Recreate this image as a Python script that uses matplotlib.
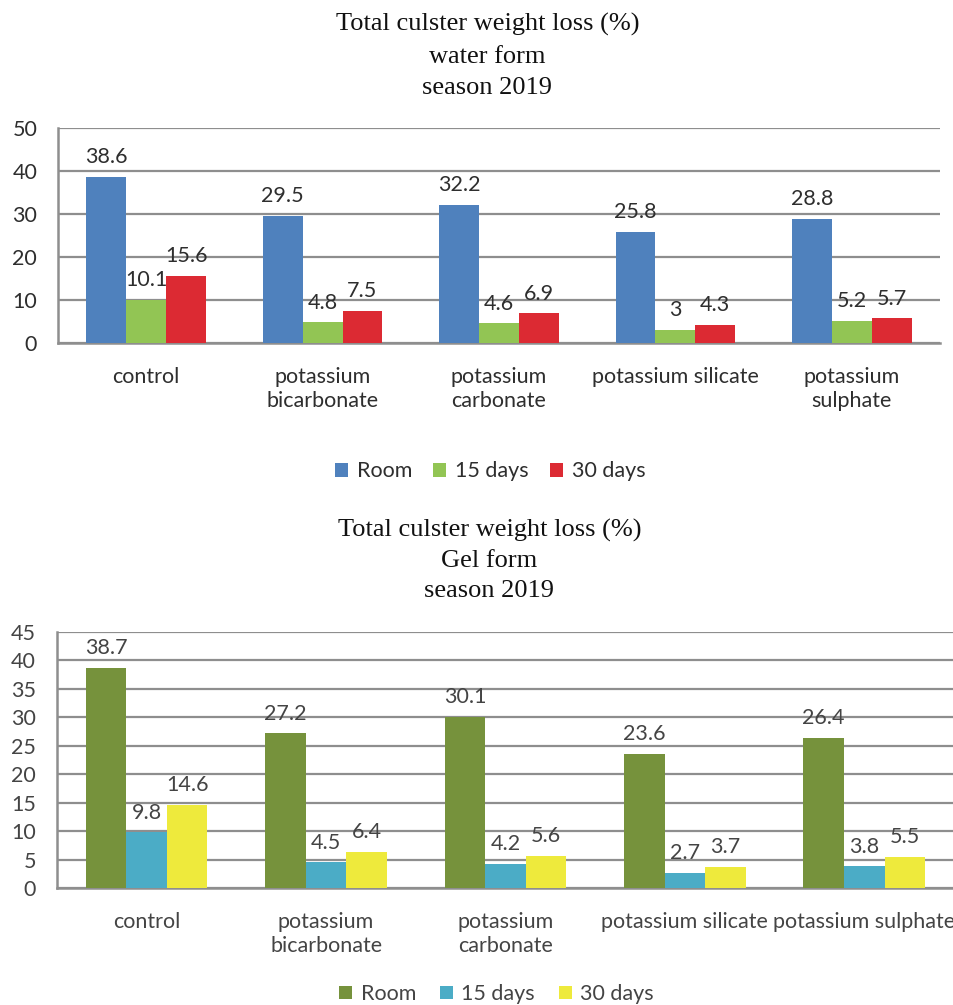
import matplotlib
matplotlib.use("Agg")
import matplotlib.pyplot as plt
import numpy as np

categories_top = ["control", "potassium\nbicarbonate", "potassium\ncarbonate", "potassium silicate", "potassium\nsulphate"]
categories_bot = ["control", "potassium\nbicarbonate", "potassium\ncarbonate", "potassium silicate", "potassium sulphate"]
series_names = ["Room", "15 days", "30 days"]

water_room = [38.6, 29.5, 32.2, 25.8, 28.8]
water_15 = [10.1, 4.8, 4.6, 3, 5.2]
water_30 = [15.6, 7.5, 6.9, 4.3, 5.7]

gel_room = [38.7, 27.2, 30.1, 23.6, 26.4]
gel_15 = [9.8, 4.5, 4.2, 2.7, 3.8]
gel_30 = [14.6, 6.4, 5.6, 3.7, 5.5]

top_colors = ["#4F81BD", "#92C554", "#DC2A33"]
bot_colors = ["#76923C", "#4BACC6", "#EEEA3C"]

plt.rcParams['font.family'] = ['Lato', 'DejaVu Sans']
grid_color = "#8E8E8E"
FS = 15.5

fig = plt.figure(figsize=(9.54, 10.05), dpi=100)


def draw(ax, cats, data, colors, ymax, ystep, tickcolor):
    x = np.arange(len(cats))
    w = 0.226
    for i, (vals, c, name) in enumerate(zip(data, colors, series_names)):
        bars = ax.bar(x + (i - 1) * w, vals, width=w, color=c, label=name, zorder=3)
        for b, v in zip(bars, vals):
            ax.annotate(f"{v:g}", (b.get_x() + b.get_width() / 2, v), xytext=(0, 7),
                        textcoords="offset points", ha="center", va="bottom",
                        fontsize=FS, color=tickcolor, zorder=4, clip_on=False)
    ax.set_xlim(-0.5, len(cats) - 0.5)
    ax.set_ylim(0, ymax)
    ax.set_yticks(np.arange(0, ymax + 0.1, ystep))
    ax.set_xticks(x)
    ax.set_xticklabels(cats, fontsize=FS, color=tickcolor, linespacing=1.25)
    ax.tick_params(axis='y', labelsize=FS, labelcolor=tickcolor, length=0, pad=15)
    ax.tick_params(axis='x', length=0, pad=17)
    ax.yaxis.grid(True, color=grid_color, linewidth=1.6, zorder=0)
    ax.set_axisbelow(True)
    for s in ["top", "right"]:
        ax.spines[s].set_visible(False)
    for s in ["left", "bottom"]:
        ax.spines[s].set_color(grid_color)
        ax.spines[s].set_linewidth(1.8)


ax1 = fig.add_axes([0.0608, 0.6587, 0.9245, 0.2139])
draw(ax1, categories_top, [water_room, water_15, water_30], top_colors, 50, 10, "#2E2E2E")
ax1.legend(loc="upper center", bbox_to_anchor=(0.49, -0.46), ncol=3, frameon=False,
           fontsize=FS, handlelength=0.6, handleheight=0.6, handletextpad=0.4,
           columnspacing=1.0, labelcolor="#2E2E2E")

ax2 = fig.add_axes([0.0597, 0.1164, 0.9403, 0.2547])
draw(ax2, categories_bot, [gel_room, gel_15, gel_30], bot_colors, 45, 5, "#444444")
ax2.legend(loc="upper center", bbox_to_anchor=(0.49, -0.30), ncol=3, frameon=False,
           fontsize=FS, handlelength=0.6, handleheight=0.6, handletextpad=0.4,
           columnspacing=1.1, labelcolor="#444444")

title_kw = dict(ha="center", va="center", fontsize=19, family="Liberation Serif", color="#111111")
fig.text(0.511, 1 - 24 / 1005, "Total culster weight loss (%)", **title_kw)
fig.text(0.511, 1 - 57 / 1005, "water form", **title_kw)
fig.text(0.511, 1 - 88 / 1005, "season 2019", **title_kw)
fig.text(0.513, 1 - 530 / 1005, "Total culster weight loss (%)", **title_kw)
fig.text(0.513, 1 - 561 / 1005, "Gel form", **title_kw)
fig.text(0.513, 1 - 591 / 1005, "season 2019", **title_kw)

fig.savefig("out.png", dpi=100)
